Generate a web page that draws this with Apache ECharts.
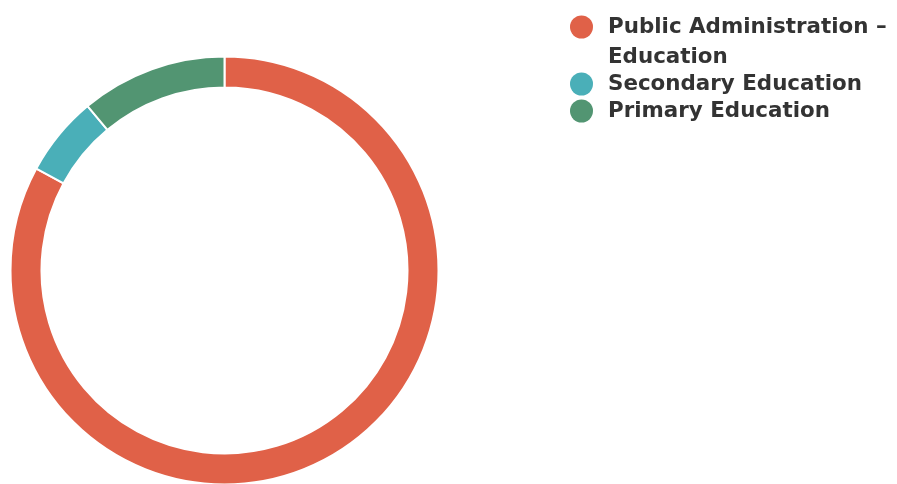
<!DOCTYPE html>
<html><head><meta charset="utf-8">
<script src="https://cdn.jsdelivr.net/npm/echarts@6/dist/echarts.min.js"></script>
<style>html,body{margin:0;padding:0;background:#fff}#c{width:897px;height:484px}</style>
</head><body><div id="c"></div>
<script>
const categories = ["Public Administration – Education", "Secondary Education", "Primary Education"];
const values = [82.9, 6.05, 11.05];
const colors = ["#E06148", "#4AAFB8", "#529572"];
const legendLines = [["Public Administration –", "Education"], ["Secondary Education"], ["Primary Education"]];

const textTok = {fontFamily: 'DejaVu Sans', fontWeight: 'bold', fontSize: 21.4, color: '#333', lineHeight: 30, padding: [0, 0, 0, 15]};
const rich = {t: textTok, s: {width: 23, height: 23, lineHeight: 30}};
colors.forEach((c, i) => { rich['d' + i] = {width: 23, height: 23, borderRadius: 11.5, backgroundColor: c, lineHeight: 30}; });

const chart = echarts.init(document.getElementById('c'), null, {renderer: 'canvas'});
chart.setOption({
  animation: false,
  color: colors,
  legend: {
    orient: 'vertical', left: 565, top: 12, padding: 0,
    itemWidth: 0, itemHeight: 0, itemGap: -3,
    icon: 'rect',
    itemStyle: {opacity: 0, borderWidth: 0},
    data: categories,
    formatter: function (name) {
      const i = categories.indexOf(name);
      return legendLines[i].map((ln, k) => (k === 0 ? '{d' + i + '| }' : '{s| }') + '{t|' + ln + '}').join('\n');
    },
    textStyle: {rich: rich, lineHeight: 30}
  },
  series: [{
    type: 'pie',
    center: [224.5, 270.5],
    radius: [183, 214],
    startAngle: 90,
    clockwise: true,
    label: {show: false},
    labelLine: {show: false},
    emphasis: {disabled: true},
    itemStyle: {borderColor: '#fff', borderWidth: 2},
    data: categories.map((n, i) => ({name: n, value: values[i]}))
  }]
});
</script></body></html>
